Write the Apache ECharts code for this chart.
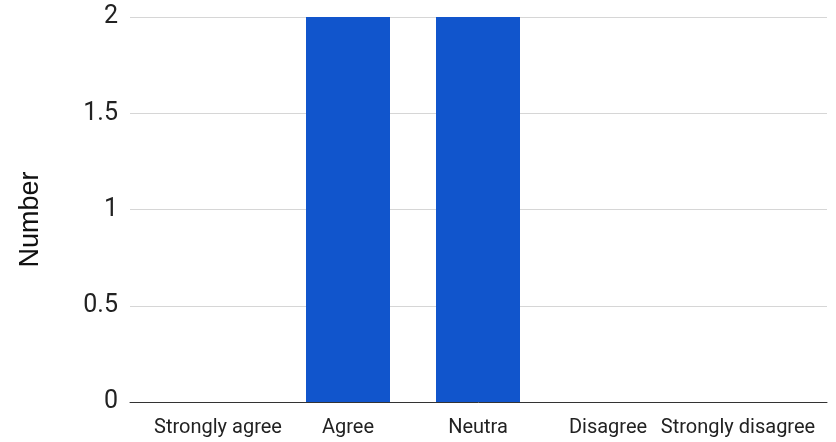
<!DOCTYPE html>
<html><head><meta charset="utf-8">
<script src="https://cdn.jsdelivr.net/npm/echarts@6/dist/echarts.min.js"></script>
<style>html,body{margin:0;padding:0;background:#fff}#c{width:836px;height:442px}</style>
</head><body><div id="c"></div>
<script>
const categories = ['Strongly agree', 'Agree', 'Neutra', 'Disagree', 'Strongly disagree'];
const values = [0, 2, 2, 0, 0];
const yTicks = { min: 0, max: 2, interval: 0.5 };
const yName = 'Number';

const chart = echarts.init(document.getElementById('c'), null, { renderer: 'canvas' });
chart.setOption({
  animation: false,
  grid: [
    { left: 130, right: 9, top: 17, bottom: 40 },
    { left: 153, right: 33, top: 17, bottom: 40 }
  ],
  xAxis: [
    { gridIndex: 0, type: 'category', data: [''], axisLine: { show: true, lineStyle: { color: '#333', width: 1 } },
      axisTick: { show: false }, axisLabel: { show: false }, splitLine: { show: false } },
    { gridIndex: 1, type: 'category', data: categories,
      axisLine: { show: false }, axisTick: { show: false },
      axisLabel: { interval: 0, margin: 16, color: '#222', fontFamily: 'Roboto', fontSize: 20 } }
  ],
  yAxis: [
    { gridIndex: 0, type: 'value', min: yTicks.min, max: yTicks.max, interval: yTicks.interval,
      name: yName, nameLocation: 'middle', nameRotate: 90, nameGap: 86,
      nameTextStyle: { fontFamily: 'Liberation Sans', fontSize: 27, color: '#111', padding: [0, 20, 0, 0] },
      axisLine: { show: false }, axisTick: { show: false },
      axisLabel: { margin: 12, color: '#222', fontFamily: 'Roboto', fontSize: 25 },
      splitLine: { lineStyle: { color: '#d6d6d6', width: 1 } } },
    { gridIndex: 1, type: 'value', min: yTicks.min, max: yTicks.max, interval: yTicks.interval,
      show: false, splitLine: { show: false } }
  ],
  series: [{
    type: 'bar', xAxisIndex: 1, yAxisIndex: 1, data: values,
    barWidth: 84, itemStyle: { color: '#1155cc' }
  }]
});
</script></body></html>
